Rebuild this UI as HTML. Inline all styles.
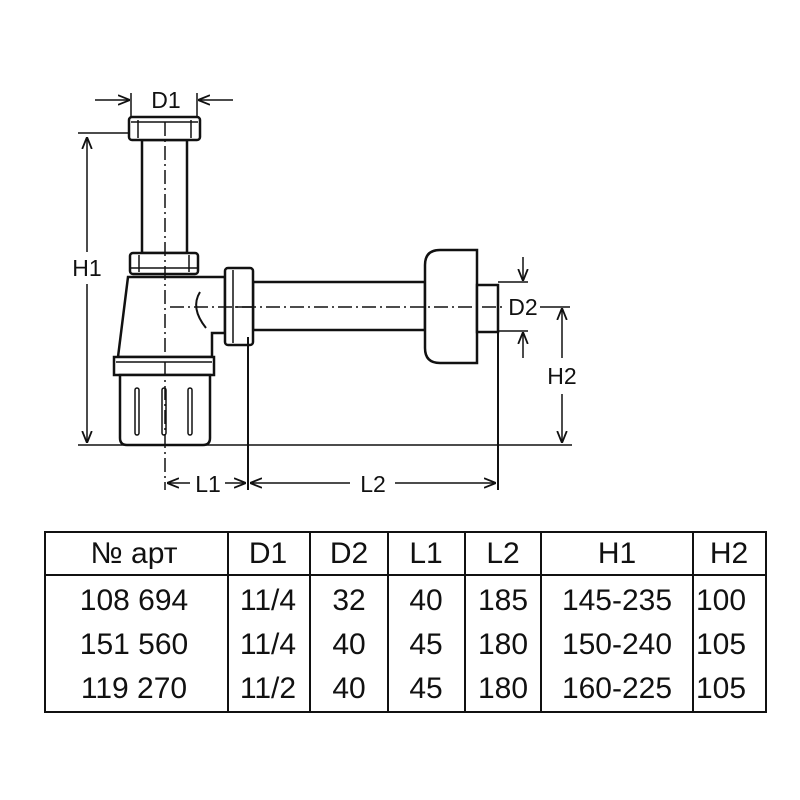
<!DOCTYPE html>
<html><head><meta charset="utf-8"><style>
html,body{margin:0;padding:0;background:#fff;}
svg{display:block}
text{font-family:"Liberation Sans",sans-serif;fill:#111}
</style></head><body>
<svg width="800" height="800" viewBox="0 0 800 800" xmlns="http://www.w3.org/2000/svg">
<defs>
<marker id="a" viewBox="0 0 10 10" refX="10" refY="5" markerWidth="8" markerHeight="8" orient="auto-start-reverse"><path d="M0,1 L10,5 L0,9" fill="none" stroke="#111" stroke-width="1.5"/></marker>
</defs>
<g stroke="#111" stroke-width="2.5" fill="#fff">
<rect x="142" y="140" width="45" height="113"/>
<rect x="129" y="117" width="71" height="23" rx="3"/>
<line x1="138" y1="120" x2="138" y2="138" stroke-width="1.5"/>
<line x1="191" y1="120" x2="191" y2="138" stroke-width="1.5"/>
<line x1="131" y1="122" x2="198" y2="122" stroke-width="1.5"/>
<rect x="130" y="253" width="68" height="21" rx="3"/>
<line x1="139" y1="255" x2="139" y2="272" stroke-width="1.5"/>
<line x1="189" y1="255" x2="189" y2="272" stroke-width="1.5"/>
<line x1="131" y1="268" x2="197" y2="268" stroke-width="1.5"/>
<path d="M128,277 L225,277 L225,333 L212,333 L212,357 L118,357 Z"/>
<path d="M200,292 Q190,308 206,328" fill="none" stroke-width="2"/>
<rect x="114" y="357" width="100" height="18"/>
<line x1="116" y1="362" x2="212" y2="362" stroke-width="1.5"/>
<path d="M120,375 L210,375 L210,438 Q210,445 203,445 L127,445 Q120,445 120,438 Z"/>
<rect x="135" y="388" width="4" height="47" rx="2" stroke-width="1.5"/>
<rect x="162" y="388" width="4" height="47" rx="2" stroke-width="1.5"/>
<rect x="188" y="388" width="4" height="47" rx="2" stroke-width="1.5"/>
<rect x="253" y="282" width="172" height="48"/>
<rect x="225" y="268" width="28" height="77" rx="3"/>
<line x1="233" y1="270" x2="233" y2="343" stroke-width="1.5"/>
<line x1="235" y1="307" x2="252" y2="307" stroke-width="1.5"/>
<path d="M477,250 L477,363 L440,363 Q425,363 425,348 L425,265 Q425,250 440,250 Z"/>
<rect x="477" y="285" width="21" height="47"/>
</g>
<g stroke="#111" stroke-width="1.5" fill="none">
<line x1="165" y1="122" x2="165" y2="490" stroke-dasharray="14,4,2,4"/>
<line x1="170" y1="307" x2="505" y2="307" stroke-dasharray="14,4,2,4"/>
<line x1="540" y1="307" x2="570" y2="307"/>
<line x1="78" y1="445" x2="572" y2="445"/>
<line x1="78" y1="133" x2="130" y2="133"/>
<line x1="87" y1="137" x2="87" y2="252" marker-start="url(#a)"/>
<line x1="87" y1="284" x2="87" y2="443" marker-end="url(#a)"/>
<line x1="131" y1="93" x2="131" y2="118"/>
<line x1="197" y1="93" x2="197" y2="118"/>
<line x1="95" y1="100" x2="130" y2="100" marker-end="url(#a)"/>
<line x1="233" y1="100" x2="198" y2="100" marker-end="url(#a)"/>
<line x1="498" y1="282" x2="528" y2="282"/>
<line x1="498" y1="331" x2="528" y2="331"/>
<line x1="523" y1="257" x2="523" y2="281" marker-end="url(#a)"/>
<line x1="523" y1="358" x2="523" y2="332" marker-end="url(#a)"/>
<line x1="562" y1="308" x2="562" y2="358" marker-start="url(#a)"/>
<line x1="562" y1="394" x2="562" y2="443" marker-end="url(#a)"/>
<line x1="248" y1="337" x2="248" y2="490" stroke-width="2"/>
<line x1="498" y1="332" x2="498" y2="490" stroke-width="2"/>
<line x1="190" y1="483" x2="167" y2="483" marker-end="url(#a)"/>
<line x1="225" y1="483" x2="246" y2="483" marker-end="url(#a)"/>
<line x1="350" y1="483" x2="250" y2="483" marker-end="url(#a)"/>
<line x1="395" y1="483" x2="496" y2="483" marker-end="url(#a)"/>
</g>
<g font-size="23">
<text x="166" y="108" text-anchor="middle">D1</text>
<text x="87" y="276" text-anchor="middle">H1</text>
<text x="523" y="315" text-anchor="middle">D2</text>
<text x="562" y="384" text-anchor="middle">H2</text>
<text x="208" y="492" text-anchor="middle">L1</text>
<text x="373" y="492" text-anchor="middle">L2</text>
</g>
<g stroke="#111" stroke-width="2" fill="none">
<rect x="45" y="532" width="721" height="180"/>
<line x1="45" y1="575" x2="766" y2="575"/>
<line x1="228" y1="532" x2="228" y2="712"/>
<line x1="310" y1="532" x2="310" y2="712"/>
<line x1="388" y1="532" x2="388" y2="712"/>
<line x1="465" y1="532" x2="465" y2="712"/>
<line x1="541" y1="532" x2="541" y2="712"/>
<line x1="693" y1="532" x2="693" y2="712"/>
</g>
<g font-size="30" text-anchor="middle">
<text x="134" y="563">№ арт</text><text x="268" y="563">D1</text><text x="349" y="563">D2</text><text x="426" y="563">L1</text><text x="503" y="563">L2</text><text x="617" y="563">H1</text><text x="729" y="563">H2</text>
<text x="134" y="610">108 694</text><text x="268" y="610">11/4</text><text x="349" y="610">32</text><text x="426" y="610">40</text><text x="503" y="610">185</text><text x="617" y="610">145-235</text><text x="721" y="610">100</text>
<text x="134" y="654">151 560</text><text x="268" y="654">11/4</text><text x="349" y="654">40</text><text x="426" y="654">45</text><text x="503" y="654">180</text><text x="617" y="654">150-240</text><text x="721" y="654">105</text>
<text x="134" y="698">119 270</text><text x="268" y="698">11/2</text><text x="349" y="698">40</text><text x="426" y="698">45</text><text x="503" y="698">180</text><text x="617" y="698">160-225</text><text x="721" y="698">105</text>
</g>
</svg>
</body></html>
